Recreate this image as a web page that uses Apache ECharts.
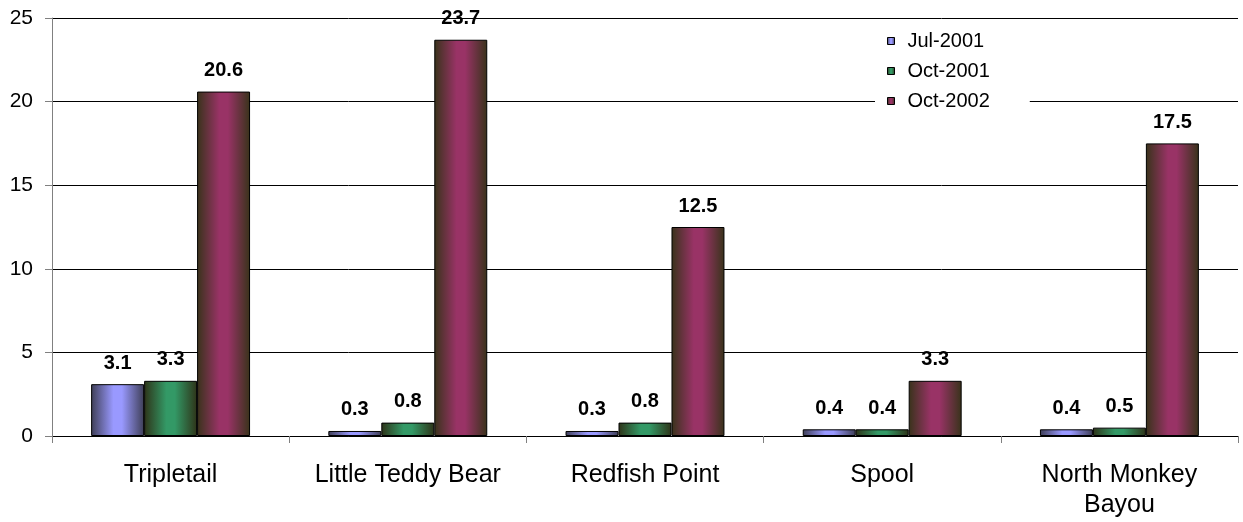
<!DOCTYPE html>
<html>
<head>
<meta charset="utf-8">
<script src="https://cdn.jsdelivr.net/npm/echarts@6/dist/echarts.min.js"></script>
<style>
  html, body { margin: 0; padding: 0; background: #ffffff; }
  #chart { width: 1243px; height: 522px; }
</style>
</head>
<body>
<div id="chart"></div>
<script>
// Sites sampled and values per survey date
const categories = ['Tripletail', 'Little Teddy Bear', 'Redfish Point', 'Spool', 'North Monkey\nBayou'];
const seriesNames = ['Jul-2001', 'Oct-2001', 'Oct-2002'];
const jul2001 = [3.1, 0.3, 0.3, 0.4, 0.4];
const oct2001 = [3.3, 0.8, 0.8, 0.4, 0.5];
const oct2002 = [20.6, 23.7, 12.5, 3.3, 17.5];
const yTicks = { min: 0, max: 25, interval: 5 };

// Horizontal shading: dark edges, bright centre
function shade(edge, mid) {
  return new echarts.graphic.LinearGradient(0, 0, 1, 0, [
    { offset: 0, color: edge },
    { offset: 0.42, color: mid },
    { offset: 0.58, color: mid },
    { offset: 1, color: edge }
  ]);
}
const fills = [
  shade('#3e3e56', '#9999ff'),
  shade('#2e3318', '#339966'),
  shade('#38331a', '#993366')
];

const font = 'Arial, "Liberation Sans", sans-serif';

function barSeries(name, data, fill) {
  return {
    name: name,
    type: 'bar',
    data: data,
    barGap: '0%',
    barCategoryGap: '33%',
    itemStyle: { color: fill, borderColor: '#000000', borderWidth: 1 },
    label: {
      show: true,
      position: 'top',
      distance: 11,
      color: '#000000',
      fontFamily: font,
      fontWeight: 'bold',
      fontSize: 20
    }
  };
}

const chart = echarts.init(document.getElementById('chart'), null, { renderer: 'canvas' });
chart.setOption({
  animation: false,
  backgroundColor: '#ffffff',
  grid: { left: 52, right: 5, top: 18, bottom: 86, containLabel: false },
  legend: {
    orient: 'vertical',
    left: 875,
    top: 26,
    backgroundColor: '#ffffff',
    padding: [4, 40, 6, 12],
    itemGap: 8,
    itemWidth: 7,
    itemHeight: 7,
    icon: 'rect',
    data: seriesNames,
    itemStyle: { borderColor: '#000000', borderWidth: 1 },
    textStyle: { fontFamily: font, fontSize: 20, color: '#000000', lineHeight: 22, padding: [0, 0, 0, 8] }
  },
  xAxis: {
    type: 'category',
    data: categories,
    axisLine: { lineStyle: { color: '#000000', width: 1 } },
    axisTick: { show: true, length: 7, lineStyle: { color: '#808080' } },
    axisLabel: {
      margin: 24,
      fontFamily: font,
      fontSize: 25,
      color: '#000000',
      lineHeight: 30,
      verticalAlign: 'top',
      interval: 0
    },
    splitLine: { show: false }
  },
  yAxis: {
    type: 'value',
    min: yTicks.min,
    max: yTicks.max,
    interval: yTicks.interval,
    axisLine: { show: true, lineStyle: { color: '#808080', width: 1 } },
    axisTick: { show: true, length: 7, lineStyle: { color: '#808080' } },
    axisLabel: { margin: 19, fontFamily: font, fontSize: 21, color: '#000000' },
    splitLine: { show: true, lineStyle: { color: '#000000', width: 1 } }
  },
  series: [
    barSeries(seriesNames[0], jul2001, fills[0]),
    barSeries(seriesNames[1], oct2001, fills[1]),
    barSeries(seriesNames[2], oct2002, fills[2])
  ]
});
</script>
</body>
</html>
